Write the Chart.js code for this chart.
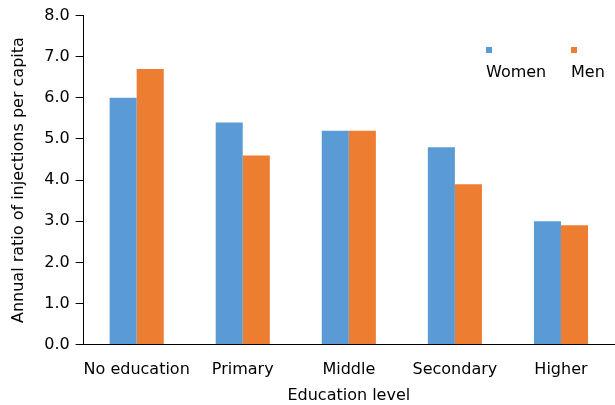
<!DOCTYPE html>
<html>
<head>
<meta charset="utf-8">
<script src="https://cdn.jsdelivr.net/npm/chart.js@4.4.0/dist/chart.umd.min.js"></script>
<style>
  html, body { margin: 0; padding: 0; background: #fff; }
  #wrap { width: 615px; height: 405px; }
</style>
</head>
<body>
<div id="wrap"><canvas id="barChart" width="615" height="405"></canvas></div>
<script>
// data
const categories = ['No education', 'Primary', 'Middle', 'Secondary', 'Higher'];
const women = [6.0, 5.4, 5.2, 4.8, 3.0];
const men = [6.7, 4.6, 5.2, 3.9, 2.9];
const yTicks = [0, 1, 2, 3, 4, 5, 6, 7, 8];

const FONT = 'DejaVu Sans';
const FSIZE = 16;

// legend with the little square sitting above each label
const topLegend = {
    id: 'topLegend',
    afterDraw(chart) {
        const c = chart.ctx;
        const spots = [486, 571];
        c.save();
        c.font = FSIZE + 'px "' + FONT + '"';
        c.textBaseline = 'middle';
        c.textAlign = 'left';
        chart.data.datasets.forEach((ds, i) => {
            c.fillStyle = ds.backgroundColor;
            c.fillRect(spots[i], 47, 6, 6);
            c.fillStyle = '#000';
            c.fillText(ds.label, spots[i], 73);
        });
        c.restore();
    }
};

const ctx = document.getElementById('barChart').getContext('2d');
new Chart(ctx, {
    type: 'bar',
    data: {
        labels: categories,
        datasets: [
            { label: 'Women', data: women, backgroundColor: '#5B9BD5' },
            { label: 'Men', data: men, backgroundColor: '#ED7D31' }
        ]
    },
    options: {
        responsive: false,
        animation: false,
        layout: { padding: { top: 14, right: 1, left: 5, bottom: 0 } },
        datasets: { bar: { categoryPercentage: 0.51, barPercentage: 1.0 } },
        scales: {
            x: {
                grid: { display: false, drawTicks: false },
                border: { display: true, color: '#000', width: 1 },
                ticks: { color: '#000', font: { family: FONT, size: FSIZE }, padding: 16, maxRotation: 0, autoSkip: false },
                title: { display: true, text: 'Education level', color: '#000', font: { family: FONT, size: FSIZE }, padding: { top: -10, bottom: 0 } }
            },
            y: {
                min: 0,
                max: 8,
                afterBuildTicks: axis => { axis.ticks = yTicks.map(v => ({ value: v })); },
                grid: { drawOnChartArea: false, drawTicks: true, tickLength: 8, color: '#000' },
                border: { display: true, color: '#000', width: 1 },
                ticks: { color: '#000', font: { family: FONT, size: FSIZE }, padding: 6, callback: v => v.toFixed(1) },
                title: { display: true, text: 'Annual ratio of injections per capita', color: '#000', font: { family: FONT, size: FSIZE }, padding: { bottom: 10 } }
            }
        },
        plugins: {
            legend: { display: false },
            tooltip: { enabled: false }
        }
    },
    plugins: [topLegend]
});
</script>
</body>
</html>
